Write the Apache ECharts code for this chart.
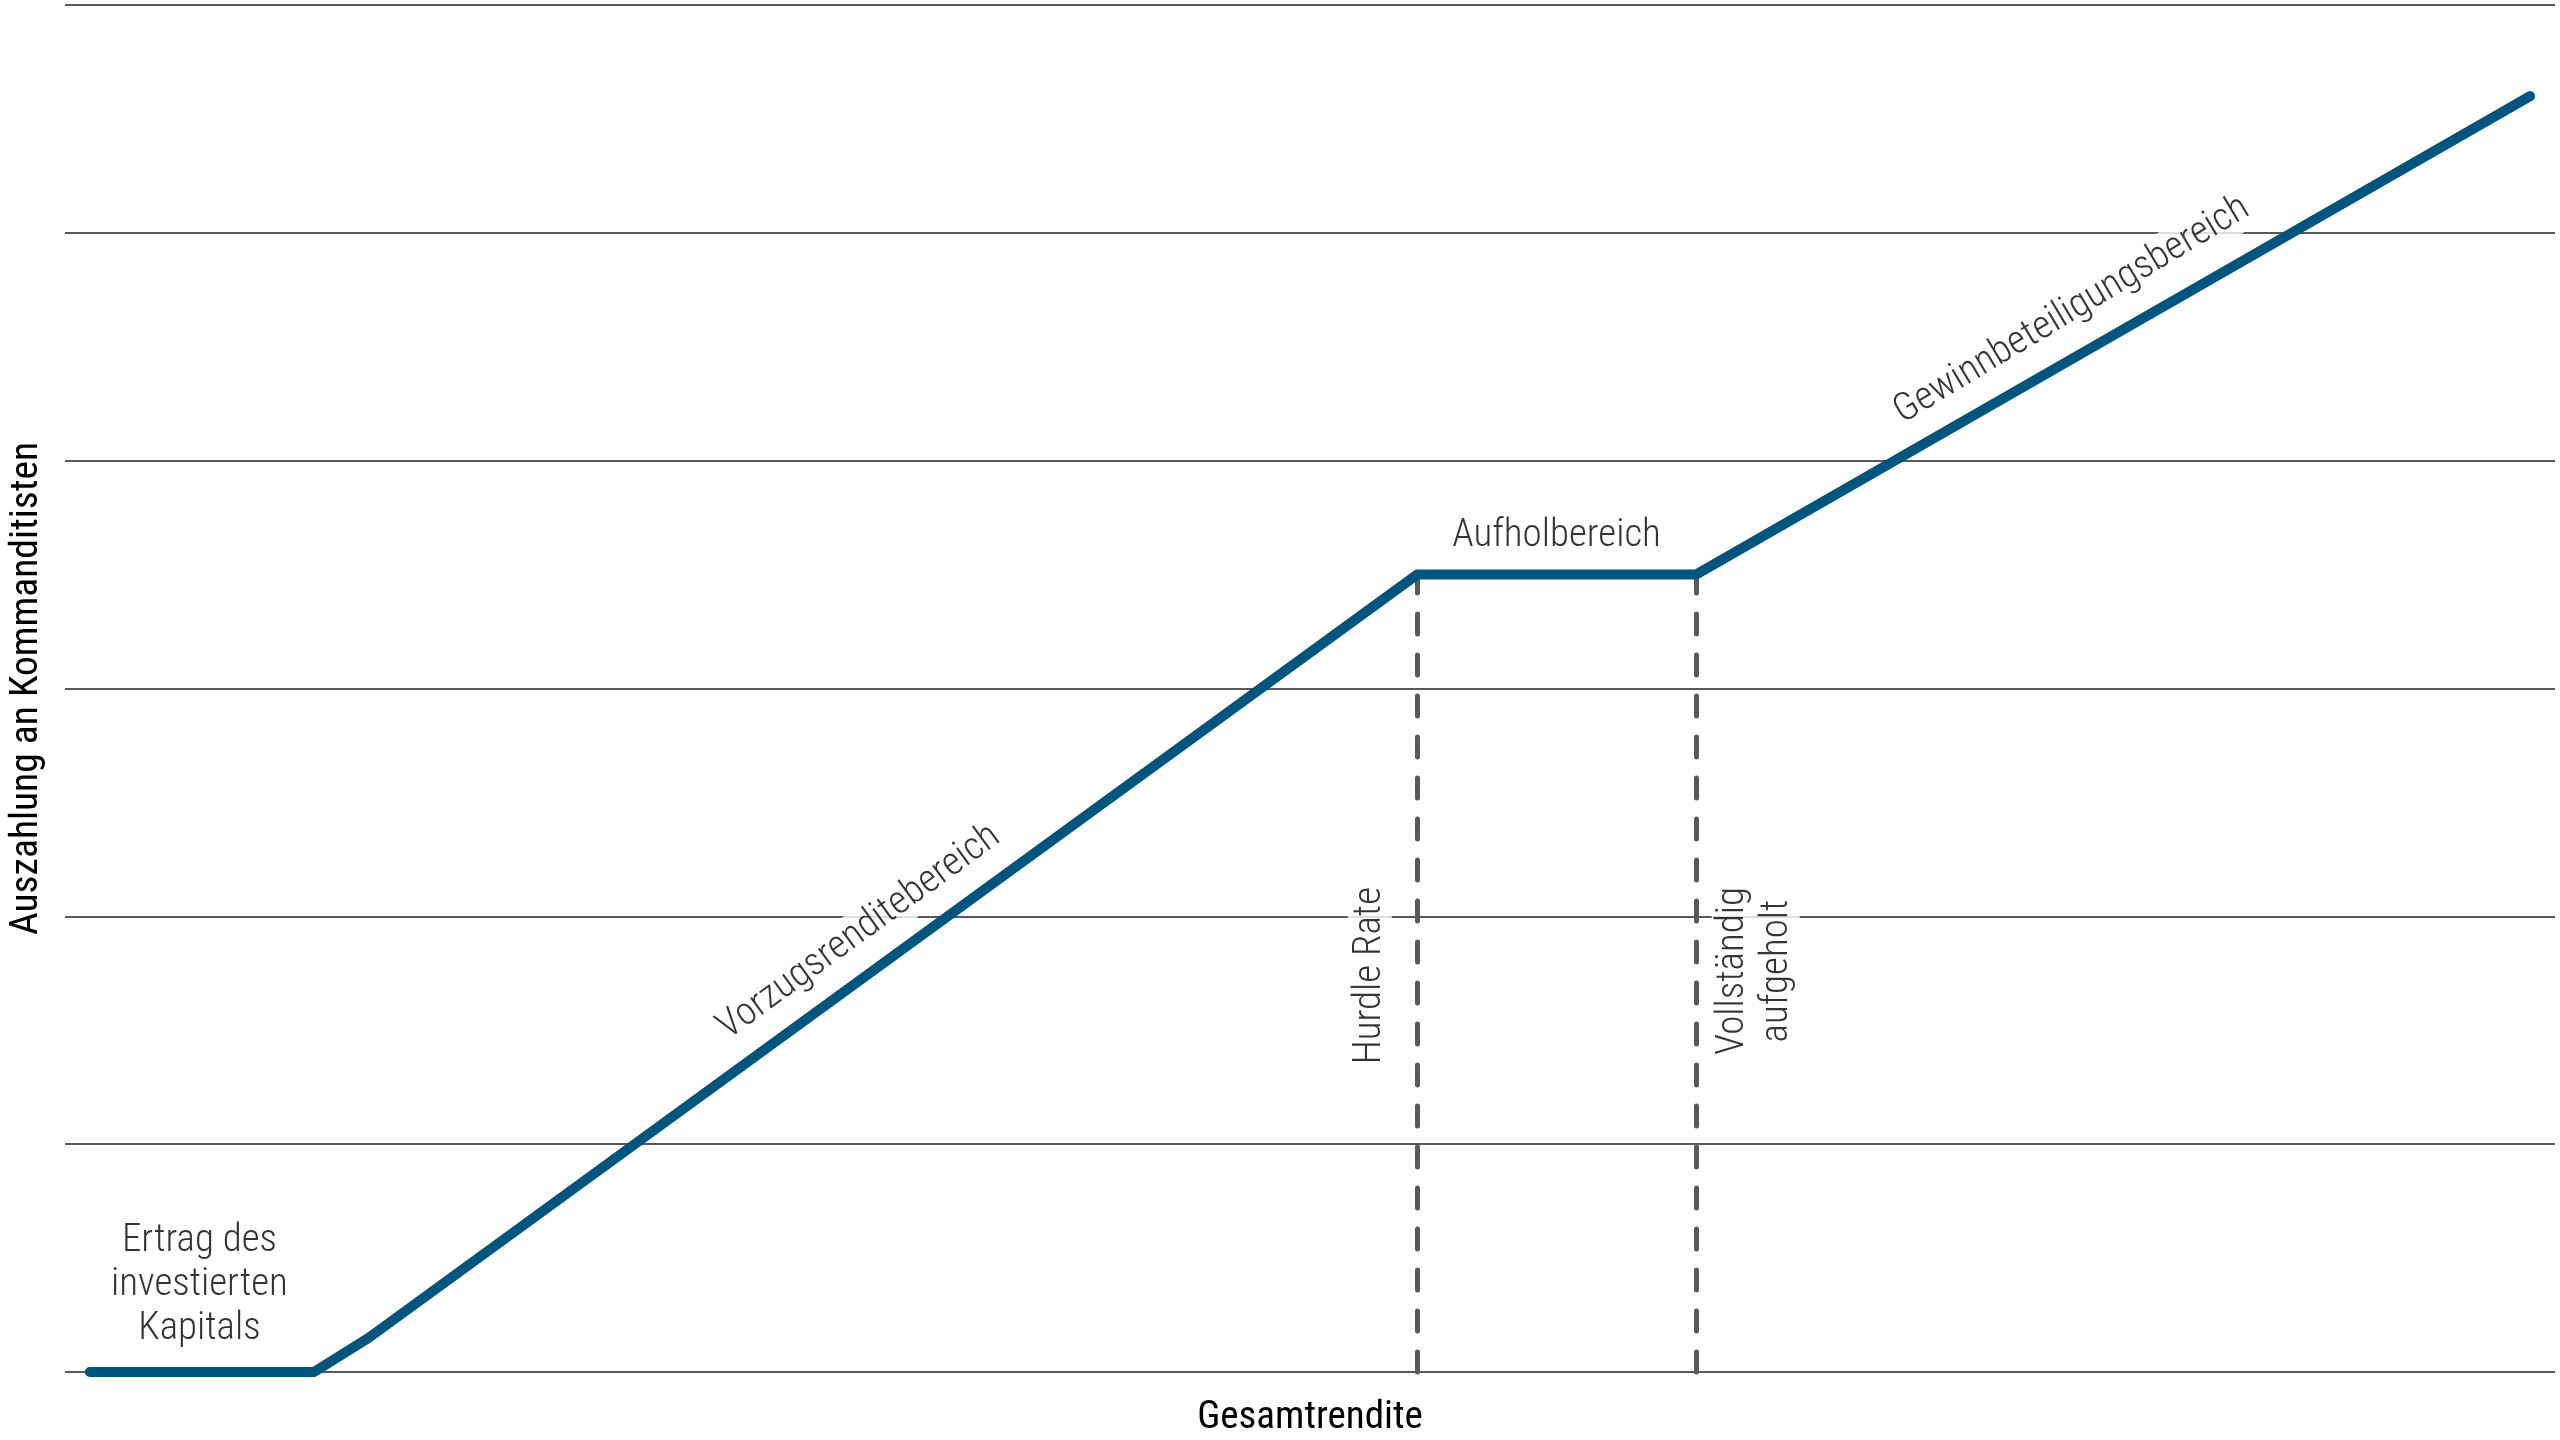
<!DOCTYPE html>
<html><head><meta charset="utf-8">
<script src="https://cdn.jsdelivr.net/npm/echarts@6/dist/echarts.min.js"></script>
<style>html,body{margin:0;padding:0;background:#fff}#c{width:2560px;height:1440px}</style>
</head><body><div id="c"></div>
<script>
const xValues = [1, 10, 12.2, 54.3, 65.5, 99];
const payout = [0, 0, 0.15, 3.5, 3.5, 5.6];
const yTicks = [0, 1, 2, 3, 4, 5, 6];
const xAxisTitle = 'Gesamtrendite';
const yAxisTitle = 'Auszahlung an Kommanditisten';
const hurdleX = xValues[3];
const catchupX = xValues[4];
const plateauY = payout[3];
const labelTexts = ['Ertrag des\ninvestierten\nKapitals', 'Vorzugsrenditebereich', 'Aufholbereich', 'Gewinnbeteiligungsbereich', 'Hurdle Rate', 'Vollständig\naufgeholt'];
const labelX = [5.4, 31.9, 59.9, 80.6, 52.4, 67.9];
const labelY = [0.38, 1.93, 3.67, 4.66, 1.74, 1.76];
const labelRotate = [0, 36, 0, 31, 90, 90];

const FONT = "'Roboto Condensed', 'Liberation Sans Narrow', 'DejaVu Sans Condensed', sans-serif";
const chart = echarts.init(document.getElementById('c'));
const lineData = xValues.map((x, i) => [x, payout[i]]);
const labelData = labelTexts.map((t, i) => ({
  value: [labelX[i], labelY[i]],
  label: {
    show: true, position: 'inside', formatter: t, rotate: labelRotate[i],
    fontFamily: FONT, fontSize: 39, fontWeight: 300, color: '#000', lineHeight: 44,
    backgroundColor: (i === 1 || i === 3 || i === 4 || i === 5) ? '#fff' : 'transparent',
    padding: [0, 6]
  }
}));
chart.setOption({
  animation: false,
  backgroundColor: '#fff',
  grid: { left: 65, right: 5, top: 5, bottom: 68, containLabel: false, outerBoundsMode: 'none' },
  xAxis: {
    type: 'value', min: 0, max: 100,
    axisLine: { show: false }, axisTick: { show: false }, axisLabel: { show: false }, splitLine: { show: false },
    name: xAxisTitle, nameLocation: 'middle', nameGap: 27,
    nameTextStyle: { fontFamily: FONT, fontSize: 39, fontWeight: 400, color: '#000' }
  },
  yAxis: {
    type: 'value', min: yTicks[0], max: yTicks[yTicks.length - 1], interval: 1,
    axisLine: { show: false }, axisTick: { show: false }, axisLabel: { show: false },
    splitLine: { show: true, lineStyle: { color: '#58595b', width: 2 } },
    name: yAxisTitle, nameLocation: 'middle', nameGap: 18, nameRotate: 90,
    nameTextStyle: { fontFamily: FONT, fontSize: 39.5, fontWeight: 400, color: '#000' }
  },
  series: [
    {
      type: 'line', data: [], silent: true,
      markLine: {
        silent: true, symbol: ['none', 'none'], label: { show: false },
        lineStyle: { color: '#58595b', width: 5, type: [20, 21], cap: 'round' },
        data: [
          [{ coord: [hurdleX, 0] }, { coord: [hurdleX, plateauY] }],
          [{ coord: [catchupX, 0] }, { coord: [catchupX, plateauY] }]
        ]
      }
    },
    {
      type: 'scatter', data: labelData, symbolSize: 1, itemStyle: { color: 'rgba(0,0,0,0)' }, silent: true, z: 3
    },
    {
      type: 'line', data: lineData, showSymbol: false, clip: false, z: 5,
      lineStyle: { color: '#00557f', width: 10, cap: 'round', join: 'round' }
    }
  ]
});
</script></body></html>
